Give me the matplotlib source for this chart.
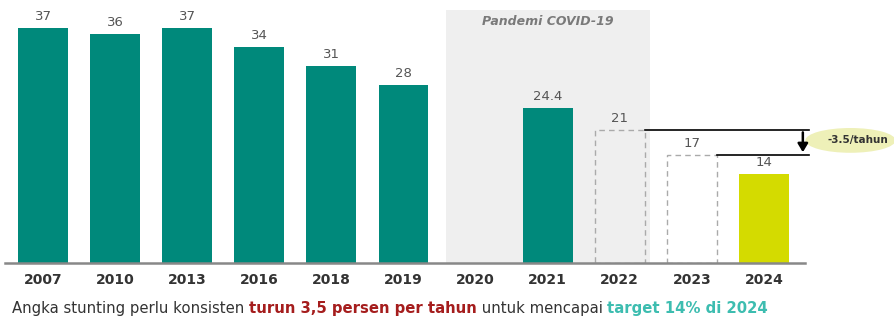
import matplotlib
matplotlib.use("Agg")
import matplotlib.pyplot as plt
from matplotlib.patches import Ellipse, Rectangle

years = ["2007", "2010", "2013", "2016", "2018", "2019", "2020", "2021", "2022", "2023", "2024"]
values = [37, 36, 37, 34, 31, 28, None, 24.4, 21, 17, 14]
value_labels = ["37", "36", "37", "34", "31", "28", "", "24.4", "21", "17", "14"]
kinds = ["actual", "actual", "actual", "actual", "actual", "actual", "none", "actual", "target", "target", "goal"]
pandemic_label = "Pandemi COVID-19"
rate_label = "-3.5/tahun"
caption_parts = [
    ("Angka stunting perlu konsisten ", "#333333", "normal"),
    ("turun 3,5 persen per tahun", "#a51d1d", "bold"),
    (" untuk mencapai ", "#333333", "normal"),
    ("target 14% di 2024", "#3dbdb0", "bold"),
]

TEAL = "#00897b"
YELLOW = "#d4db00"

fig = plt.figure(figsize=(8.95, 3.21), dpi=100)
W, H = 895, 321
ax = fig.add_axes([5 / W, (H - 263) / H, 800 / W, 263 / H])
ax.set_xlim(-0.527, 10.57)
ax.set_ylim(0, 41.4)
for s in ax.spines.values():
    s.set_visible(False)
ax.set_yticks([])
x = list(range(len(years)))
ax.set_xticks(x)
ax.set_xticklabels(years, fontsize=10, fontweight="bold", color="#333333")
ax.tick_params(axis="x", length=0, pad=7)

bw = 0.69
# pandemic shading
ax.add_patch(Rectangle((5.59, 0), 8.42 - 5.59, 39.8, facecolor="#efefef", edgecolor="none", zorder=0))
ax.text(7.0, 38.0, pandemic_label, ha="center", va="center", fontsize=9, fontstyle="italic",
        fontweight="bold", color="#7a7a7a", zorder=3)

for xi, v, lab, k in zip(x, values, value_labels, kinds):
    if v is None:
        continue
    if k == "actual":
        ax.bar(xi, v, width=bw, color=TEAL, zorder=2)
    elif k == "goal":
        ax.bar(xi, v, width=bw, color=YELLOW, zorder=2)
    else:
        ax.bar(xi, v, width=bw, facecolor="none", edgecolor="#aaaaaa", linestyle=(0, (4, 3)),
               linewidth=1.0, zorder=2)
    ax.text(xi, v + 0.8, lab, ha="center", va="bottom", fontsize=9.5, color="#555555", zorder=3)

# baseline
ax.plot([-0.527, 10.57], [0, 0], color="#888888", lw=1.8, clip_on=False, zorder=4)

# rate lines
i22, i23 = years.index("2022"), years.index("2023")
ax.plot([i22 + bw / 2, 10.62], [values[i22]] * 2, color="black", lw=1.2, clip_on=False, zorder=4)
ax.plot([i23 + bw / 2, 10.62], [values[i23]] * 2, color="black", lw=1.2, clip_on=False, zorder=4)
ax.annotate("", xy=(10.54, values[i23]), xytext=(10.54, values[i22]),
            arrowprops=dict(arrowstyle="-|>,head_width=0.3,head_length=0.5", color="black", lw=1.8),
            annotation_clip=False, zorder=5)

ax.add_patch(Ellipse((11.2, 19.3), 1.25, 3.9, facecolor="#eef0b8", edgecolor="none", clip_on=False, zorder=3))
ax.text(11.3, 19.3, rate_label, ha="center", va="center", fontsize=7.5, fontweight="bold",
        color="#333333", clip_on=False, zorder=5)

# caption
fig.canvas.draw()
r = fig.canvas.get_renderer()
xpos = 12
ypos = H - 309
for txt, col, wt in caption_parts:
    t = fig.text(xpos / W, ypos / H, txt, fontsize=10.7, color=col, fontweight=wt, ha="left", va="center")
    bb = t.get_window_extent(renderer=r)
    xpos += bb.width

fig.savefig("out.png", dpi=100)
